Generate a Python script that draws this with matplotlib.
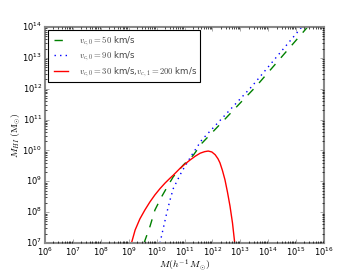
import numpy as np
import matplotlib
matplotlib.use('Agg')
import matplotlib.pyplot as plt

plt.style.use('classic')
plt.rcParams['mathtext.fontset'] = 'cm'

# log10 halo mass vs log10 HI mass
logm_50 = [9.55, 9.76, 9.94, 10.18, 10.42, 10.6, 10.96, 11.32, 11.62, 12.33, 13.0, 13.56, 14.5, 15.45]
logh_50 = [7.0, 7.53, 8.07, 8.5, 8.88, 9.15, 9.53, 9.85, 10.23, 10.9, 11.54, 12.07, 13.05, 14.04]

logm_90 = [10.12, 10.24, 10.36, 10.48, 10.6, 10.9, 11.26, 11.62, 12.5, 13.41, 14.3, 15.25]
logh_90 = [7.0, 7.48, 7.96, 8.39, 8.77, 9.31, 9.85, 10.34, 11.19, 12.07, 13.03, 14.05]

logm_30 = [9.1, 9.23, 9.4, 9.58, 9.76, 9.94, 10.12, 10.3, 10.48, 10.6, 10.84, 11.02, 11.2, 11.38,
           11.56, 11.72, 11.85, 11.98, 12.1, 12.2, 12.27, 12.36, 12.45, 12.54, 12.63, 12.72, 12.8]
logh_30 = [7.0, 7.42, 7.78, 8.07, 8.33, 8.56, 8.76, 8.94, 9.1, 9.2, 9.42, 9.56, 9.69, 9.81,
           9.91, 9.96, 9.98, 9.95, 9.86, 9.73, 9.6, 9.35, 9.05, 8.65, 8.2, 7.65, 7.0]

labels = [r'$v_{c,0}=50$ km/s', r'$v_{c,0}=90$ km/s',
          r'$v_{c,0}=30$ km/s,$v_{c,1}=200$ km/s']

fig = plt.figure(figsize=(3.6, 2.7), dpi=100, facecolor='white')
ax = fig.add_axes([0.125, 0.1, 0.775, 0.8])

ax.plot(10**np.array(logm_50), 10**np.array(logh_50), 'g--', lw=1, label=labels[0])
ax.plot(10**np.array(logm_90), 10**np.array(logh_90), 'b:', lw=1, label=labels[1])
ax.plot(10**np.array(logm_30), 10**np.array(logh_30), 'r-', lw=1, label=labels[2])

ax.set_xscale('log')
ax.set_yscale('log')
ax.set_xlim(1e6, 1e16)
ax.set_ylim(1e7, 1e14)

ax.set_xlabel(r'$M(h^{-1}\,M_{\odot})$', fontsize=7)
ax.set_ylabel(r'$M_{HI}\ (\mathrm{M_{\odot}})$', fontsize=7)
ax.xaxis.set_label_coords(0.5, -0.066)
ax.yaxis.set_label_coords(-0.08, 0.5)
ax.tick_params(labelsize=6, colors='#888888', labelcolor='black', pad=2)
ax.tick_params(which='major', length=3)
ax.tick_params(which='minor', length=1.5)
for sp in ax.spines.values():
    sp.set_color('#888888')
    sp.set_linewidth(1.5)

leg = ax.legend(loc='upper left', fontsize=6.2, handlelength=2.2, handletextpad=0.9,
                borderpad=0.4, labelspacing=0.22, borderaxespad=0.4,
                frameon=True, fancybox=False)
leg.get_frame().set_edgecolor('black')
leg.get_frame().set_linewidth(0.8)
for t in leg.get_texts():
    t.set_color('#444444')

fig.savefig('out.png', dpi=100, facecolor='white')
